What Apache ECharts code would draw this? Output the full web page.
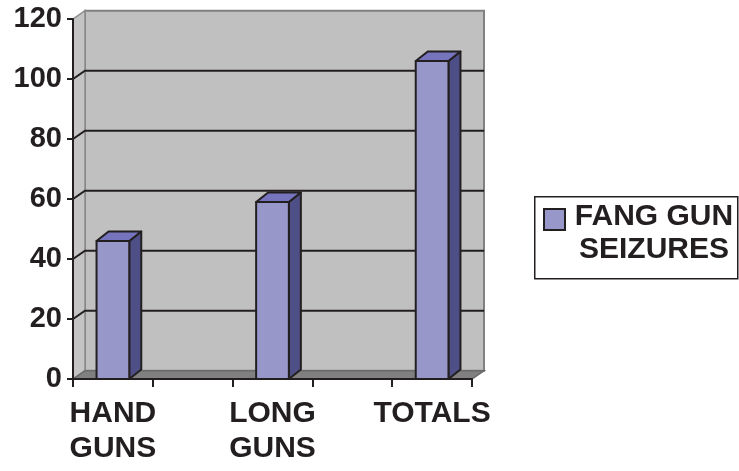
<!DOCTYPE html>
<html>
<head>
<meta charset="utf-8">
<script src="https://cdn.jsdelivr.net/npm/echarts@6/dist/echarts.min.js"></script>
<style>
  html, body { margin: 0; padding: 0; background: #fff; }
  #chart { width: 739px; height: 471px; }
</style>
</head>
<body>
<div id="chart"></div>
<script>
// categories (blank slots sit between the bars, like the original sheet)
const categories = ['HAND\nGUNS', '', 'LONG\nGUNS', '', 'TOTALS'];
const seizures = [46, null, 59, null, 106];
const yTicks = [0, 20, 40, 60, 80, 100, 120];
const seriesName = 'FANG GUN SEIZURES';
const legendLines = ['FANG GUN', 'SEIZURES'];

const ink = '#231f20';
const font = '"Liberation Sans", Arial, sans-serif';

// depth of the fake 3d box
const wallDx = 12, wallDy = 8.3;
const barDx = 12, barDy = 9.5;

const chart = echarts.init(document.getElementById('chart'));

// back wall, side wall, floor and the gridlines on the back wall
const renderWalls = (params, api) => {
  const band = api.size([1, 0])[0];
  const x0 = api.coord([0, 0])[0] - band / 2;
  const x1 = api.coord([categories.length - 1, 0])[0] + band / 2;
  const yBot = api.coord([0, yTicks[0]])[1];
  const yTop = api.coord([0, yTicks[yTicks.length - 1]])[1];
  const children = [
    { type: 'rect', shape: { x: x0 + wallDx, y: yTop - wallDy, width: x1 - x0, height: yBot - yTop },
      style: { fill: '#c0c0c0', stroke: '#808080', lineWidth: 2 } },
    { type: 'polygon', shape: { points: [[x0, yTop], [x0 + wallDx, yTop - wallDy], [x0 + wallDx, yBot - wallDy], [x0, yBot]] },
      style: { fill: '#c4c4c4', stroke: '#8a8a8a', lineWidth: 1.5 } },
    { type: 'polygon', shape: { points: [[x0, yBot], [x0 + wallDx, yBot - wallDy], [x1 + wallDx, yBot - wallDy], [x1, yBot]] },
      style: { fill: '#808080', stroke: '#6a6a6a', lineWidth: 1.5 } }
  ];
  yTicks.slice(1, -1).forEach(v => {
    const y = api.coord([0, v])[1];
    children.push({ type: 'polyline',
      shape: { points: [[x0, y], [x0 + wallDx, y - wallDy], [x1 + wallDx, y - wallDy]] },
      style: { stroke: ink, lineWidth: 2, fill: null } });
  });
  return { type: 'group', children };
};

// one 3d column: front, top and right side
const renderBar = (params, api) => {
  const idx = api.value(0);
  const base = api.coord([idx, 0]);
  const top = api.coord([idx, api.value(1)]);
  const w = api.size([1, 0])[0] * 0.41;
  const l = top[0] - w / 2, r = top[0] + w / 2;
  const edge = { stroke: ink, lineWidth: 2, lineJoin: 'round' };
  return {
    type: 'group',
    children: [
      { type: 'polygon', shape: { points: [[r, top[1]], [r + barDx, top[1] - barDy], [r + barDx, base[1] - barDy], [r, base[1]]] },
        style: Object.assign({ fill: '#4f4f87' }, edge) },
      { type: 'polygon', shape: { points: [[l, top[1]], [l + barDx, top[1] - barDy], [r + barDx, top[1] - barDy], [r, top[1]]] },
        style: Object.assign({ fill: '#7674bd' }, edge) },
      { type: 'rect', shape: { x: l, y: top[1], width: w, height: base[1] - top[1] },
        style: Object.assign({ fill: '#9897ca' }, edge) }
    ]
  };
};

const barData = [];
seizures.forEach((v, i) => { if (v != null) barData.push([i, v]); });

chart.setOption({
  animation: false,
  backgroundColor: '#fff',
  grid: { left: 73, top: 19, width: 399, height: 360 },
  xAxis: {
    type: 'category',
    data: categories,
    z: 5,
    axisLine: { lineStyle: { color: ink, width: 2 } },
    axisTick: { show: true, length: 8, lineStyle: { color: ink, width: 2 } },
    axisLabel: {
      interval: 0, margin: 17, color: ink, fontSize: 30, fontWeight: 'bold',
      fontFamily: font, lineHeight: 35
    },
    splitLine: { show: false }
  },
  yAxis: {
    type: 'value',
    min: 0, max: 120, interval: 20,
    z: 5,
    axisLine: { show: true, lineStyle: { color: ink, width: 2 } },
    axisTick: { show: true, length: 6, lineStyle: { color: ink, width: 2 } },
    axisLabel: { margin: 11, color: ink, fontSize: 29, fontWeight: 'bold', fontFamily: font },
    splitLine: { show: false }
  },
  series: [
    { type: 'custom', name: 'walls', z: 1, silent: true, data: [[0]], renderItem: renderWalls },
    { type: 'custom', name: seriesName, z: 3, data: barData, renderItem: renderBar }
  ],
  graphic: [
    { type: 'rect', left: 534, top: 196, shape: { width: 203, height: 82 },
      style: { fill: '#fff', stroke: ink, lineWidth: 1.5 } },
    { type: 'rect', left: 543, top: 208, shape: { width: 21, height: 21 },
      style: { fill: '#9897ca', stroke: ink, lineWidth: 2 } },
    { type: 'text', x: 654, y: 200,
      style: { text: legendLines.join('\n'), align: 'center', verticalAlign: 'top',
        fill: ink, font: 'bold 30px ' + font, lineHeight: 33 } }
  ]
});
</script>
</body>
</html>
